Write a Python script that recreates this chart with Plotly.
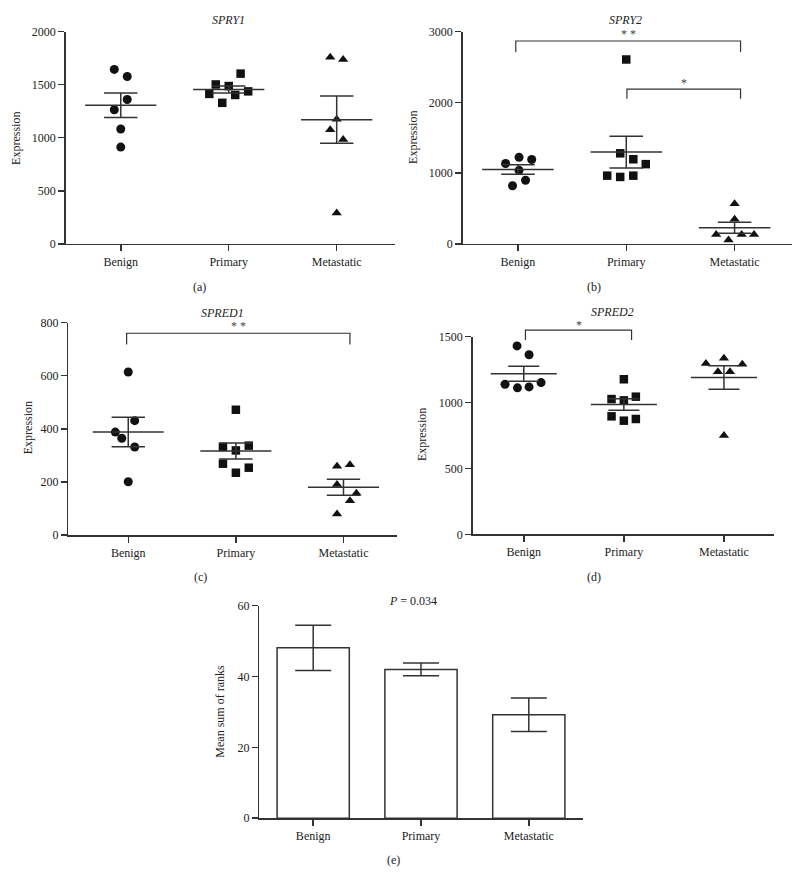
import numpy as np
import plotly.graph_objects as go

W, H = 797, 882

categories = ["Benign", "Primary", "Metastatic"]

# (a) SPRY1
spry1_benign = [1644, 1577, 1360, 1264, 1082, 912]
spry1_primary = [1502, 1487, 1604, 1413, 1403, 1329, 1437]
spry1_metastatic = [1759, 1737, 1175, 1076, 983, 291]

# (b) SPRY2
spry2_benign = [1136, 1224, 1192, 1039, 821, 900]
spry2_primary = [2606, 1280, 1196, 1127, 964, 946, 964]
spry2_metastatic = [566, 348, 134, 134, 134, 56]

# (c) SPRED1
spred1_benign = [614, 388, 365, 431, 332, 201]
spred1_primary = [472, 332, 319, 337, 269, 254, 235]
spred1_metastatic = [259, 265, 191, 158, 130, 80]

# (d) SPRED2
spred2_benign = [1430, 1363, 1139, 1112, 1119, 1152]
spred2_primary = [1177, 1027, 1017, 1045, 896, 876, 863]
spred2_metastatic = [1296, 1336, 1291, 1234, 1234, 751]

# (e) mean sum of ranks
rank_means = [48.1, 42.0, 29.2]
rank_errors = [6.4, 1.8, 4.7]

# horizontal scatter offsets (layout only)
jit_a = [[-0.06, 0.06, 0.06, -0.06, 0, 0],
         [-0.12, 0, 0.11, -0.18, 0.06, -0.06, 0.18],
         [-0.06, 0.06, 0, -0.06, 0.06, 0]]
jit_b = [[-0.114, 0.01, 0.127, 0.01, -0.05, 0.07],
         [0, -0.056, 0.065, 0.18, -0.176, -0.056, 0.065],
         [0, 0, -0.17, 0.065, 0.18, -0.056]]
jit_c = [[0, -0.12, -0.06, 0.06, 0.06, 0],
         [0, -0.12, 0, 0.12, -0.12, 0.12, 0],
         [-0.06, 0.06, -0.06, 0.12, 0.06, -0.06]]
jit_d = [[-0.067, 0.053, -0.187, -0.063, 0.053, 0.173],
         [0, -0.123, 0, 0.12, -0.123, 0.12, 0],
         [-0.18, 0, 0.183, -0.06, 0.06, 0]]

LINE = "#333333"
MARK = "#111111"
FONT = "Liberation Serif"

fig = go.Figure()


def px(x):
    return x / W


def py(y):
    return 1 - y / H


panels = [
    # name, data, jitter, domainx(px), domainy(px top,bottom), xrange, yrange, dtick
    ("", [spry1_benign, spry1_primary, spry1_metastatic], jit_a,
     (65.7, 395), (25, 240.7), [-0.51, 2.54], [0, 2000], 500),
    ("2", [spry2_benign, spry2_primary, spry2_metastatic], jit_b,
     (462.7, 792), (25, 240.7), [-0.51, 2.53], [0, 3000], 1000),
    ("3", [spred1_benign, spred1_primary, spred1_metastatic], jit_c,
     (68.3, 397.3), (320.7, 536.7), [-0.557, 2.5], [0, 800], 200),
    ("4", [spred2_benign, spred2_primary, spred2_metastatic], jit_d,
     (472.7, 774), (335, 536), [-0.51, 2.5], [0, 1500], 500),
]
symbols = ["circle", "square", "triangle-up"]
sizes = [9, 8.5, 9]


def axis_style(**kw):
    d = dict(showline=True, linecolor=LINE, linewidth=1.5, ticks="outside",
             ticklen=6, tickwidth=1.5, tickcolor=LINE, showgrid=False,
             zeroline=False, tickfont=dict(family=FONT, size=12, color="#222"))
    d.update(kw)
    return d


layout_axes = {}
for name, groups, jit, dx, dy, xr, yr, dt in panels:
    xa = "x" + name
    ya = "y" + name
    for gi, (vals, offs) in enumerate(zip(groups, jit)):
        fig.add_trace(go.Scatter(
            x=[gi + o for o in offs], y=vals, mode="markers", xaxis=xa, yaxis=ya,
            marker=dict(symbol=symbols[gi], size=sizes[gi], color=MARK),
            cliponaxis=False, showlegend=False, hoverinfo="skip"))
    # mean +/- SEM lines
    lx, ly = [], []
    for gi, vals in enumerate(groups):
        v = np.array(vals, dtype=float)
        m = v.mean()
        s = v.std(ddof=1) / np.sqrt(len(v))
        lx += [gi - 0.33, gi + 0.33, None, gi - 0.155, gi + 0.155, None,
               gi - 0.155, gi + 0.155, None, gi, gi, None]
        ly += [m, m, None, m + s, m + s, None, m - s, m - s, None, m - s, m + s, None]
    fig.add_trace(go.Scatter(x=lx, y=ly, mode="lines", xaxis=xa, yaxis=ya,
                             line=dict(color=LINE, width=1.5), cliponaxis=False,
                             showlegend=False, hoverinfo="skip"))
    xkey = "xaxis" + name
    ykey = "yaxis" + name
    layout_axes[xkey] = axis_style(domain=[px(dx[0]), px(dx[1])], range=xr,
                                   tickvals=[0, 1, 2], ticktext=categories,
                                   anchor=ya)
    layout_axes[ykey] = axis_style(domain=[py(dy[1]), py(dy[0])], range=yr,
                                   dtick=dt, tick0=0, anchor=xa)

# hidden taller axis sharing the SPRED2 scale, so its bracket above 1500 is not clipped
d_top_ext = 315.0
d_bottom, d_top = 536.0, 335.0
layout_axes["yaxis6"] = dict(domain=[py(d_bottom), py(d_top_ext)],
                             range=[0, 1500 * (d_bottom - d_top_ext) / (d_bottom - d_top)],
                             visible=False, anchor="x4", showgrid=False, zeroline=False)

# significance brackets
brackets = [
    # xaxis, yaxis, x0, x1, top, drop, label, label_y
    ("x2", "y2", -0.02, 2.055, 2867, 2713, "* *", 2960),
    ("x2", "y2", 1.006, 2.055, 2188, 2050, "*", 2270),
    ("x3", "y3", -0.015, 2.06, 760, 718, "* *", 787),
    ("x4", "y6", 0.017, 1.077, 1549, 1475, "*", 1592),
]
for xa, ya, x0, x1, top, drop, lab, ly_ in brackets:
    fig.add_trace(go.Scatter(x=[x0, x0, x1, x1], y=[drop, top, top, drop],
                             mode="lines", xaxis=xa, yaxis=ya,
                             line=dict(color=LINE, width=1.2), cliponaxis=False,
                             showlegend=False, hoverinfo="skip"))
    fig.add_annotation(x=(x0 + x1) / 2, y=ly_, xref=xa, yref=ya, text=lab,
                       showarrow=False, font=dict(family=FONT, size=12, color="#444"))

# (e) bar chart
fig.add_trace(go.Bar(x=[0, 1, 2], y=rank_means, xaxis="x5", yaxis="y5", width=0.67,
                     marker=dict(color="white", line=dict(color=LINE, width=1.5)),
                     error_y=dict(type="data", array=rank_errors, visible=True,
                                  color=LINE, thickness=1.5, width=18),
                     showlegend=False, hoverinfo="skip"))
layout_axes["xaxis5"] = axis_style(domain=[px(259.3), px(582.7)], range=[-0.5, 2.5],
                                   tickvals=[0, 1, 2], ticktext=categories, anchor="y5")
layout_axes["yaxis5"] = axis_style(domain=[py(824.3), py(608.3)], range=[0, 60],
                                   dtick=20, tick0=0, anchor="x5")

fig.update_layout(width=W, height=H, margin=dict(l=0, r=0, t=0, b=0),
                  plot_bgcolor="rgba(0,0,0,0)", paper_bgcolor="white",
                  font=dict(family=FONT, size=12, color="#222"),
                  showlegend=False, bargap=0, hovermode=False, **layout_axes)

texts = [
    ("<i>SPRY1</i>", 228, 13, 0),
    ("<i>SPRY2</i>", 625, 13, 0),
    ("<i>SPRED1</i>", 222, 311, 0),
    ("<i>SPRED2</i>", 612, 310, 0),
    ("<i>P</i> = 0.034", 413, 604, 0),
    ("(a)", 199, 285, 0),
    ("(b)", 594, 285, 0),
    ("(c)", 200, 579, 0),
    ("(d)", 594, 579, 0),
    ("(e)", 393, 867, 0),
    ("Expression", 16, 133, -90),
    ("Expression", 413, 133, -90),
    ("Expression", 28, 428, -90),
    ("Expression", 422, 435, -90),
    ("Mean sum of ranks", 220, 716, -90),
]
for t, x, y, ang in texts:
    fig.add_annotation(x=px(x), y=py(y), xref="paper", yref="paper", text=t,
                       showarrow=False, textangle=ang, xanchor="center",
                       yanchor="middle", font=dict(family=FONT, size=12, color="#222"))

fig.write_html("out.html", config={"staticPlot": True, "displayModeBar": False},
               post_script="document.body.style.margin='0';"
                           "document.documentElement.style.overflow='hidden';")
